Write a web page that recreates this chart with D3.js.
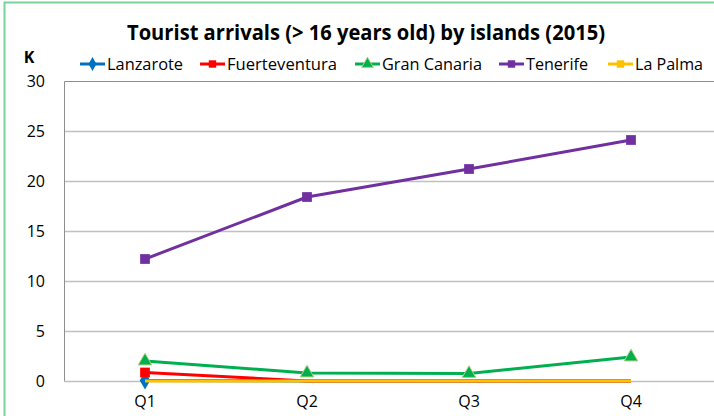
<!DOCTYPE html>
<html>
<head>
<meta charset="utf-8">
<script src="https://cdn.jsdelivr.net/npm/d3@7"></script>
<style>
  body { margin: 0; background: #fff; }
  text { font-family: "Open Sans", sans-serif; fill: #000; }
</style>
</head>
<body>
<div id="chart"></div>
<script>
// Data (thousands)
const quarters = ["Q1", "Q2", "Q3", "Q4"];
const islands = ["Lanzarote", "Fuerteventura", "Gran Canaria", "Tenerife", "La Palma"];
const lanzarote = [0.05, 0, 0, 0];
const fuerteventura = [0.85, 0, 0, 0];
const granCanaria = [2.0, 0.8, 0.75, 2.4];
const tenerife = [12.2, 18.4, 21.2, 24.1];
const laPalma = [0, 0, 0, 0];
const yTicks = [0, 5, 10, 15, 20, 25, 30];

const colors = ["#0070c0", "#ff0000", "#00b050", "#7030a0", "#ffc000"];
const shapes = [d3.symbolDiamond, d3.symbolSquare, d3.symbolTriangle, d3.symbolSquare, d3.symbolSquare];
const seriesValues = [lanzarote, fuerteventura, granCanaria, tenerife, laPalma];

const chart = {
  margin: { top: 81, left: 64 },
  width: 650,
  height: 300
};

const svg = d3.select("#chart")
  .append("svg")
  .attr("width", 714)
  .attr("height", 416);

// outer green border
svg.append("path")
  .attr("d", "M4.5,416 V2.5 H714")
  .attr("fill", "none")
  .attr("stroke", "#77d49b")
  .attr("stroke-width", 2);

// title
svg.append("text")
  .attr("x", 366)
  .attr("y", 40)
  .attr("text-anchor", "middle")
  .attr("font-size", "22px")
  .attr("font-weight", "bold")
  .attr("textLength", 478)
  .attr("lengthAdjust", "spacingAndGlyphs")
  .text("Tourist arrivals (> 16 years old) by islands (2015)");

// unit label
svg.append("text")
  .attr("x", 29)
  .attr("y", 63)
  .attr("text-anchor", "middle")
  .attr("font-size", "16px")
  .attr("font-weight", "bold")
  .text("K");

const g = svg.append("g")
  .attr("transform", "translate(" + chart.margin.left + "," + chart.margin.top + ")");

const x = d3.scaleBand()
  .domain(quarters)
  .range([0, 648]);

const y = d3.scaleLinear()
  .domain([0, 30])
  .range([chart.height, 0]);

// gridlines
g.selectAll(".grid")
  .data(yTicks.filter(d => d > 0 && d < 30))
  .enter()
  .append("line")
  .attr("x1", 0)
  .attr("x2", chart.width + 10)
  .attr("y1", d => y(d) + 0.5)
  .attr("y2", d => y(d) + 0.5)
  .attr("stroke", "#c0c0c0")
  .attr("stroke-width", 1.5);

// frame
g.append("path")
  .attr("d", "M0.5," + (chart.height + 0.5) + " V0.5 H" + (chart.width + 10))
  .attr("fill", "none")
  .attr("stroke", "#8e8e8e")
  .attr("stroke-width", 1);
g.append("line")
  .attr("x1", 0)
  .attr("x2", chart.width + 10)
  .attr("y1", chart.height + 0.5)
  .attr("y2", chart.height + 0.5)
  .attr("stroke", "#bfbfbf")
  .attr("stroke-width", 1.5);

// y axis labels
g.append("g")
  .call(d3.axisLeft(y).tickValues(yTicks).tickSize(0).tickPadding(19))
  .call(a => a.select(".domain").remove())
  .selectAll("text")
  .attr("font-size", "16px")
  .style("font-family", "'Open Sans', sans-serif");

// x axis labels
g.append("g")
  .attr("transform", "translate(0," + chart.height + ")")
  .call(d3.axisBottom(x).tickSize(0).tickPadding(15))
  .call(a => a.select(".domain").remove())
  .selectAll("text")
  .attr("font-size", "16px")
  .style("font-family", "'Open Sans', sans-serif");

const xc = q => x(q) + x.bandwidth() / 2;

const line = d3.line()
  .x((d, i) => xc(quarters[i]))
  .y(d => y(d));

// series
seriesValues.forEach((vals, s) => {
  g.append("path")
    .datum(vals)
    .attr("d", line)
    .attr("fill", "none")
    .attr("stroke", colors[s])
    .attr("stroke-width", 3)
    .attr("stroke-linejoin", "round");

  g.selectAll(".m" + s)
    .data(vals.map((v, i) => ({ v: v, q: quarters[i] })).filter(d => d.v > 0))
    .enter()
    .append("path")
    .attr("class", "m" + s)
    .attr("d", d3.symbol().type(shapes[s]).size(s == 2 ? 80 : 95))
    .attr("transform", d => "translate(" + xc(d.q) + "," + y(d.v) + ")")
    .attr("fill", colors[s])
    .attr("stroke", s == 2 ? "#b5cf7a" : "none")
    .attr("stroke-width", 1);
});

// legend
const legendX = [80, 200, 355, 499, 608];
const legendW = [76, 110, 100, 62, 68];
const legend = svg.selectAll(".legend")
  .data(islands)
  .enter()
  .append("g")
  .attr("class", "legend")
  .attr("transform", (d, i) => "translate(" + legendX[i] + ",64)");

legend.append("line")
  .attr("x1", 0)
  .attr("x2", 25)
  .attr("stroke", (d, i) => colors[i])
  .attr("stroke-width", 3);

legend.append("path")
  .attr("d", (d, i) => d3.symbol().type(shapes[i]).size(i == 2 ? 60 : 55)())
  .attr("transform", "translate(12.5,0)")
  .attr("fill", (d, i) => colors[i])
  .attr("stroke", (d, i) => i == 2 ? "#b5cf7a" : "none");

legend.append("text")
  .attr("x", 27)
  .attr("y", 5.5)
  .attr("font-size", "16px")
  .attr("textLength", (d, i) => legendW[i])
  .attr("lengthAdjust", "spacingAndGlyphs")
  .text(d => d);
</script>
</body>
</html>
